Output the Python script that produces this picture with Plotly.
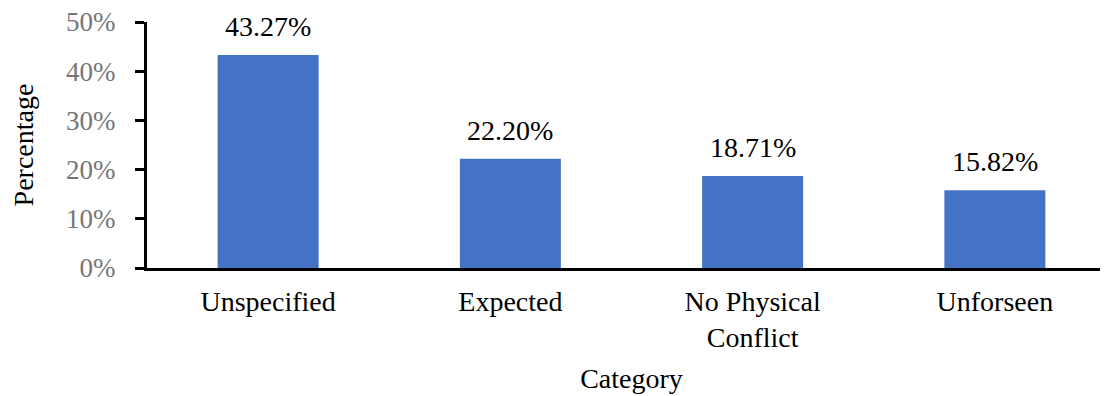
import plotly.graph_objects as go

categories = ["Unspecified", "Expected", "No Physical<br>Conflict", "Unforseen"]
values = [0.4327, 0.2220, 0.1871, 0.1582]
labels = ["43.27%", "22.20%", "18.71%", "15.82%"]
y_ticks = [0, 0.1, 0.2, 0.3, 0.4, 0.5]
y_tick_labels = ["0%", "10%", "20%", "30%", "40%", "50%"]

FONT = "Liberation Serif, Times New Roman, serif"
FS = 28

fig = go.Figure(go.Bar(
    x=categories, y=values,
    marker=dict(color="#4472C4", line=dict(width=0)),
    cliponaxis=False,
))

for c, v, t in zip(categories, values, labels):
    fig.add_annotation(x=c, y=v, text=t, showarrow=False, yanchor="bottom",
                       yshift=11, font=dict(family=FONT, size=FS, color="black"))

fig.update_layout(
    width=1108, height=396,
    margin=dict(l=139, r=0, t=14, b=136),
    plot_bgcolor="white", paper_bgcolor="white",
    bargap=0.583,
    showlegend=False,
    font=dict(family=FONT, size=FS, color="black"),
)
fig.update_xaxes(
    range=[-0.5, 3.5], automargin=False,
    showline=True, linecolor="black", linewidth=3,
    ticks="", showgrid=False,
    tickfont=dict(family=FONT, size=FS, color="black"),
    ticklabelstandoff=6, ticklabeloverflow="allow",
    title=dict(text="Category", font=dict(family=FONT, size=FS, color="black"), standoff=17),
)
fig.update_yaxes(
    range=[0, 0.5], automargin=False,
    tickvals=y_ticks, ticktext=y_tick_labels,
    showline=True, linecolor="black", linewidth=3,
    ticks="outside", ticklen=9, tickwidth=3, tickcolor="black",
    showgrid=False, zeroline=False,
    tickfont=dict(family=FONT, size=27, color="#767676"),
    ticklabelstandoff=14, ticklabeloverflow="allow",
    title=dict(text="Percentage", font=dict(family=FONT, size=FS, color="black"), standoff=30),
)

fig.write_html("out.html")
